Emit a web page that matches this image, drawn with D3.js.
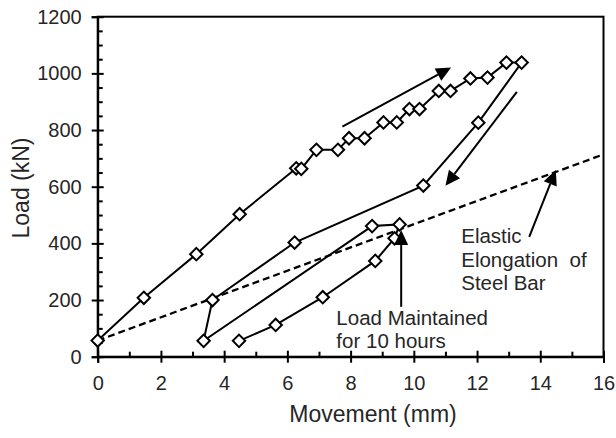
<!DOCTYPE html>
<html>
<head>
<meta charset="utf-8">
<script src="https://cdn.jsdelivr.net/npm/d3@7/dist/d3.min.js"></script>
<style>
  html, body { margin: 0; padding: 0; background: #fff; }
  text { font-family: "Liberation Sans", Arial, sans-serif; }
</style>
</head>
<body>
<svg id="chart" width="616" height="438"></svg>
<script>
// ---- Data ----
const movement = [0, 1.46, 3.12, 4.49, 6.28, 6.44, 6.92, 7.6, 7.95, 8.44, 9.04, 9.46, 9.86, 10.18, 10.79, 11.16, 11.79, 12.33, 12.93, 13.41,
                  12.04, 10.3, 6.23, 3.63, 3.35, 8.68, 9.55, 9.39, 8.78, 7.12, 5.63, 4.47];
const load = [57, 208, 362, 503, 665, 663, 730, 730, 771, 771, 827, 827, 874, 874, 938, 938, 982, 985, 1038, 1038,
              826, 604, 403, 200, 56, 461, 467, 418, 338, 210, 112, 56];
const elasticX = [0, 16];
const elasticY = [57, 714];
const xTicks = [0, 2, 4, 6, 8, 10, 12, 14, 16];
const yTicks = [0, 200, 400, 600, 800, 1000, 1200];
// annotation arrows: [fromX, fromY, toX, toY] in data units
const arrows = [
  [7.74, 812, 11.18, 1021],
  [13.26, 935, 11.0, 603],
  [13.65, 423, 14.49, 659],
  [9.6, 176, 9.6, 447]
];
const labels = [
  { lines: ["Elastic", "Elongation  of", "Steel Bar"], x: 11.5, y: 400 },
  { lines: ["Load Maintained", "for 10 hours"], x: 7.55, y: 112 }
];

const svg = d3.select("#chart");
const mLeft = 97.7, mRight = 603.5, mTop = 16.7, mBottom = 356.7;
const x = d3.scaleLinear().domain([0, 16]).range([mLeft, mRight]);
const y = d3.scaleLinear().domain([0, 1200]).range([mBottom, mTop]);

// frame
svg.append("rect").attr("x", mLeft).attr("y", mTop).attr("width", mRight - mLeft).attr("height", mBottom - mTop)
  .attr("fill", "none").attr("stroke", "#000").attr("stroke-width", 2);

// x axis
const xMinor = d3.range(1, 16, 2);
const gxm = svg.append("g").attr("transform", `translate(0,${mBottom})`)
  .call(d3.axisBottom(x).tickValues(xMinor).tickSize(-5).tickFormat(""));
gxm.select(".domain").remove();
gxm.selectAll("line").attr("stroke", "#000").attr("stroke-width", 2);

const gx = svg.append("g").attr("transform", `translate(0,${mBottom})`)
  .call(d3.axisBottom(x).tickValues(xTicks).tickSize(6).tickFormat(d3.format("d")));
gx.select(".domain").attr("stroke", "#000").attr("stroke-width", 2);
gx.selectAll(".tick line").attr("y1", -6).attr("y2", 6).attr("stroke", "#000").attr("stroke-width", 2);
gx.selectAll(".tick text").attr("y", 19).attr("dy", "0.71em").attr("fill", "#262626")
  .style("font-size", "20px").style("font-family", "'Liberation Sans', Arial, sans-serif");

// y axis
const yMinor = d3.range(50, 1200, 50).filter(v => v % 200 !== 0);
const gym = svg.append("g").attr("transform", `translate(${mLeft},0)`)
  .call(d3.axisLeft(y).tickValues(yMinor).tickSize(-5).tickFormat(""));
gym.select(".domain").remove();
gym.selectAll("line").attr("stroke", "#000").attr("stroke-width", 2);

const gy = svg.append("g").attr("transform", `translate(${mLeft},0)`)
  .call(d3.axisLeft(y).tickValues(yTicks).tickSize(6).tickFormat(d3.format("d")));
gy.select(".domain").attr("stroke", "#000").attr("stroke-width", 2);
gy.selectAll(".tick line").attr("x1", -6).attr("x2", 6).attr("stroke", "#000").attr("stroke-width", 2);
gy.selectAll(".tick text").attr("x", -16).attr("fill", "#262626")
  .style("font-size", "20px").style("font-family", "'Liberation Sans', Arial, sans-serif");

// axis titles
svg.append("text").attr("x", 373).attr("y", 422).attr("text-anchor", "middle")
  .attr("fill", "#262626").style("font-size", "23px").text("Movement (mm)");
svg.append("text").attr("transform", `translate(29,188) rotate(-90)`).attr("text-anchor", "middle")
  .attr("fill", "#262626").style("font-size", "23px").text("Load (kN)");

// elastic dashed line
const pts = elasticX.map((v, i) => [v, elasticY[i]]);
svg.append("path").datum(pts)
  .attr("d", d3.line().x(d => x(d[0])).y(d => y(d[1])))
  .attr("fill", "none").attr("stroke", "#000").attr("stroke-width", 2.3).attr("stroke-dasharray", "7,4");

// data line
const data = movement.map((v, i) => [v, load[i]]);
svg.append("path").datum(data)
  .attr("d", d3.line().x(d => x(d[0])).y(d => y(d[1])))
  .attr("fill", "none").attr("stroke", "#000").attr("stroke-width", 2);

// diamonds
svg.append("g").selectAll("path").data(data).join("path")
  .attr("transform", d => `translate(${x(d[0])},${y(d[1])}) rotate(45)`)
  .attr("d", "M-4.4,-4.4H4.4V4.4H-4.4Z")
  .attr("fill", "#fff").attr("stroke", "#000").attr("stroke-width", 2);

// arrows
const ag = svg.append("g");
arrows.forEach(a => {
  const x1 = x(a[0]), y1 = y(a[1]), x2 = x(a[2]), y2 = y(a[3]);
  const ang = Math.atan2(y2 - y1, x2 - x1);
  const L = 15, W = 7;
  const bx = x2 - L * Math.cos(ang), by = y2 - L * Math.sin(ang);
  ag.append("line").attr("x1", x1).attr("y1", y1).attr("x2", bx).attr("y2", by)
    .attr("stroke", "#000").attr("stroke-width", 2);
  const px = -Math.sin(ang) * W, py = Math.cos(ang) * W;
  ag.append("path").attr("d", `M${x2},${y2}L${bx + px},${by + py}L${bx - px},${by - py}Z`).attr("fill", "#000");
});

// annotation texts
labels.forEach(l => {
  const t = svg.append("text").attr("x", x(l.x)).attr("y", y(l.y)).attr("fill", "#262626")
    .style("font-size", "20.5px").style("white-space", "pre");
  l.lines.forEach((s, i) => t.append("tspan").attr("x", x(l.x)).attr("dy", i === 0 ? 0 : 23.5).text(s));
});
</script>
</body>
</html>
